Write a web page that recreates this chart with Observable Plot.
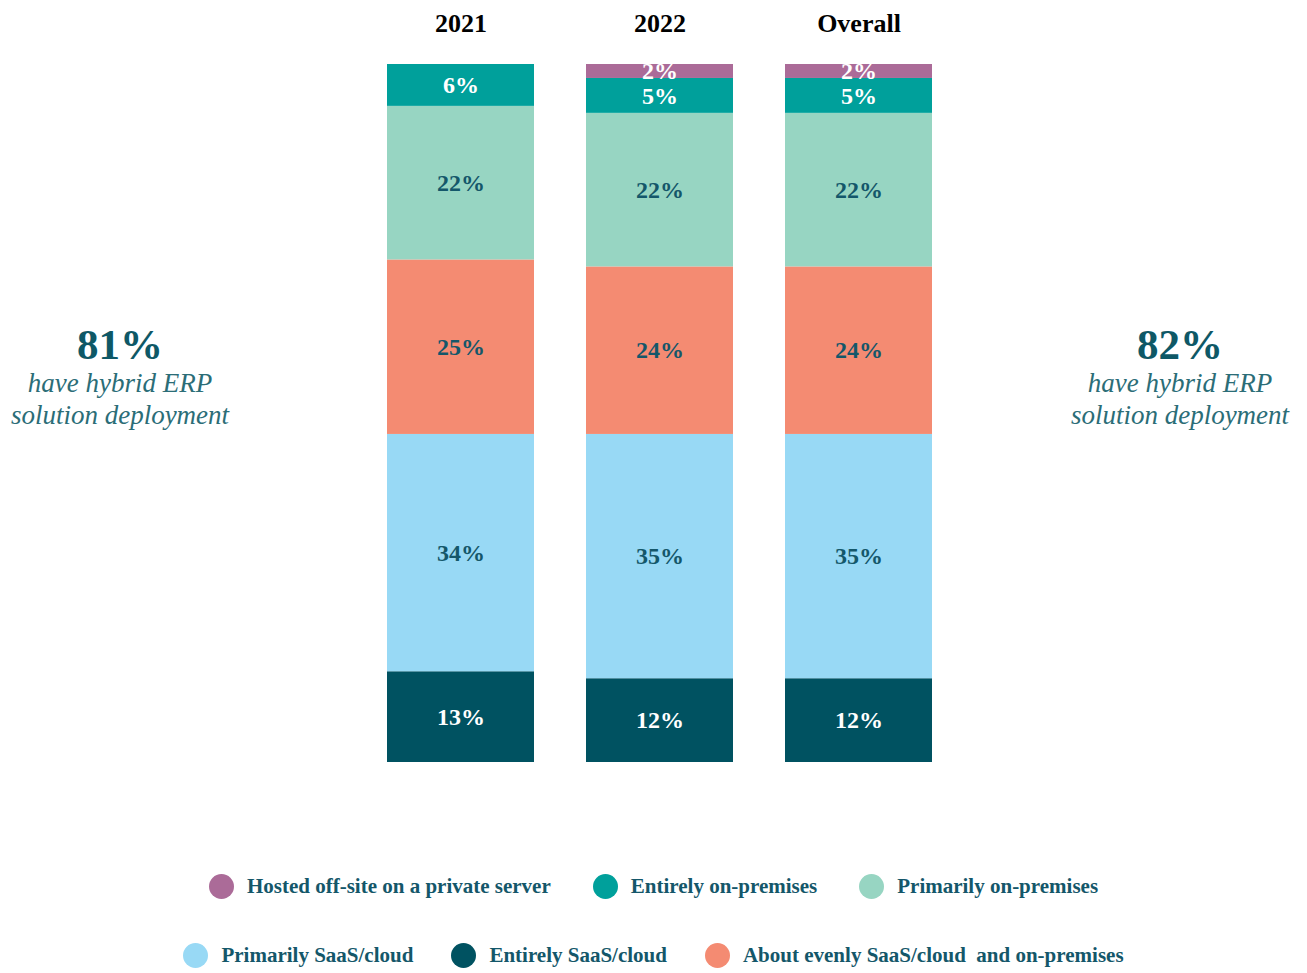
<!DOCTYPE html>
<html><head><meta charset="utf-8">
<script src="https://cdn.jsdelivr.net/npm/d3@7"></script>
<script src="https://cdn.jsdelivr.net/npm/@observablehq/plot@0.6"></script>
<style>
body{margin:0;background:#fff;font-family:"Liberation Serif",serif;}
#wrap{position:relative;width:1307px;height:973px;overflow:hidden;}
#chart svg{display:block;}
.note{position:absolute;width:300px;text-align:center;color:#0e5866;}
.note .big{font-size:43px;font-weight:bold;line-height:40px;height:42px;}
.note .it{font-style:italic;font-size:27px;line-height:32px;color:#2b6d77;}
#legend{position:absolute;left:0;top:870px;width:1307px;}
.row{display:flex;justify-content:center;align-items:center;gap:42px;height:32px;}
.row + .row{margin-top:37px;gap:38px;}
.item{display:flex;align-items:center;gap:13px;font-weight:bold;font-size:21px;color:#14576a;white-space:pre;}
.dot{width:25px;height:25px;border-radius:50%;}
</style></head><body>
<div id="wrap"><div id="chart"></div><div id="legend"></div></div>
<script>
const periods = ["2021", "2022", "Overall"];
const categories = [
  "Entirely SaaS/cloud",
  "Primarily SaaS/cloud",
  "About evenly SaaS/cloud  and on-premises",
  "Primarily on-premises",
  "Entirely on-premises",
  "Hosted off-site on a private server"
];
const colors = ["#005261", "#98d9f5", "#f48b72", "#97d5c2", "#00a09b", "#ab6b98"];
const darkCategories = ["Entirely SaaS/cloud", "Entirely on-premises", "Hosted off-site on a private server"];
const values2021 = [13, 34, 25, 22, 6, 0];
const values2022 = [12, 35, 24, 22, 5, 2];
const valuesOverall = [12, 35, 24, 22, 5, 2];
const hybridShares = ["81%", "82%"];
const hybridText = ["have hybrid ERP", "solution deployment"];
const legendRows = [
  ["Hosted off-site on a private server", "Entirely on-premises", "Primarily on-premises"],
  ["Primarily SaaS/cloud", "Entirely SaaS/cloud", "About evenly SaaS/cloud  and on-premises"]
];

const series = [values2021, values2022, valuesOverall];
const table = periods.flatMap((p, i) => categories.map((c, j) => ({period: p, category: c, value: series[i][j]}))).filter(d => d.value > 0);
const font = '"Liberation Serif", serif';
const isDark = d => darkCategories.includes(d.category);

const chart = Plot.plot({
  width: 1307, height: 800,
  marginTop: 64, marginBottom: 38, marginLeft: 386, marginRight: 373,
  style: {fontFamily: font, background: "transparent"},
  x: {domain: periods, paddingInner: 0.26, paddingOuter: 0, label: null},
  y: {domain: [0, 100], axis: null},
  color: {domain: categories, range: colors},
  marks: [
    Plot.axisX({anchor: "top", tickSize: 0, tickPadding: 33, fontSize: 26, fontWeight: "bold", fill: "#000", label: null}),
    Plot.barY(table, Plot.stackY({x: "period", y: "value", fill: "category", order: categories})),
    Plot.text(table, Plot.stackY({x: "period", y: "value", z: "category", order: categories,
      text: d => isDark(d) ? d.value + "%" : "", fill: "white", fontSize: 24, fontWeight: "bold"})),
    Plot.text(table, Plot.stackY({x: "period", y: "value", z: "category", order: categories,
      text: d => isDark(d) ? "" : d.value + "%", fill: "#14576a", fontSize: 24, fontWeight: "bold"}))
  ]
});
document.getElementById("chart").appendChild(chart);

const wrap = document.getElementById("wrap");
const noteCenters = [120, 1180];
hybridShares.forEach((s, i) => {
  const n = document.createElement("div");
  n.className = "note";
  n.style.left = (noteCenters[i] - 150) + "px";
  n.style.top = "325px";
  n.innerHTML = `<div class="big">${s}</div>` + hybridText.map(t => `<div class="it">${t}</div>`).join("");
  wrap.appendChild(n);
});

const legend = document.getElementById("legend");
legendRows.forEach(row => {
  const r = document.createElement("div");
  r.className = "row";
  row.forEach(c => {
    const it = document.createElement("div");
    it.className = "item";
    it.innerHTML = `<span class="dot" style="background:${colors[categories.indexOf(c)]}"></span><span>${c}</span>`;
    r.appendChild(it);
  });
  legend.appendChild(r);
});
</script>
</body></html>
